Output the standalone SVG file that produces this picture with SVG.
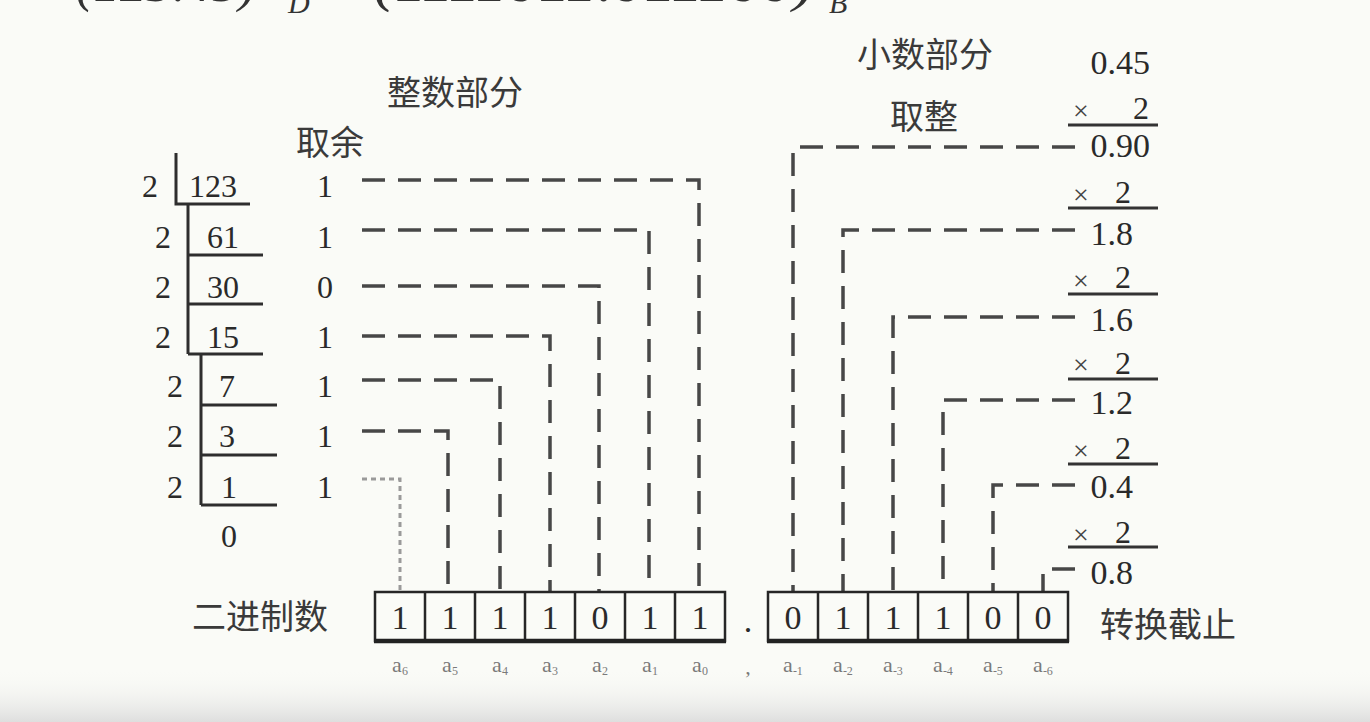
<svg xmlns="http://www.w3.org/2000/svg" width="1370" height="722" viewBox="0 0 1370 722">
<style>
.num{font-family:"Liberation Serif","DejaVu Serif",serif;font-size:32px;fill:#2a2a2a}
.big{font-family:"Liberation Serif","DejaVu Serif",serif;font-size:34px;fill:#2a2a2a}
.cjk{font-family:"Noto Sans CJK SC","Noto Sans CJK JP",sans-serif;font-size:34px;fill:#3a3a3a}
.times{font-family:"Liberation Serif","DejaVu Serif",serif;font-size:28px;fill:#444}
.lbl{font-family:"Liberation Serif","DejaVu Serif",serif;font-size:22px;fill:#7a7a7a}
.sub{font-size:12px}
.div{stroke:#2e2e2e;stroke-width:3;fill:none}
.dash{stroke:#474747;stroke-width:3.5;fill:none;stroke-dasharray:23 13}
.dot{stroke:#9a9a9a;stroke-width:3;fill:none;stroke-dasharray:5 4}
.box{stroke:#262626;stroke-width:2.5;fill:none}
.rule{stroke:#333;stroke-width:3}
.ttl{font-family:"Liberation Serif","DejaVu Serif",serif;fill:#333;font-style:italic}
</style>
<defs>
<linearGradient id="fade" x1="0" y1="0" x2="0" y2="1">
<stop offset="0" stop-color="#fafbf7" stop-opacity="0"/>
<stop offset="1" stop-color="#dedede"/>
</linearGradient>
</defs>
<rect x="0" y="0" width="1370" height="722" fill="#fafbf7"/>
<rect x="0" y="668" width="1370" height="54" fill="url(#fade)"/>

<g id="title">
<text class="ttl" x="76" y="1" font-size="52" textLength="180" lengthAdjust="spacingAndGlyphs">(123.45)</text>
<text class="ttl" x="288" y="13" font-size="30">D</text>
<text class="ttl" x="374" y="1" font-size="52" textLength="440" lengthAdjust="spacingAndGlyphs">(1111011.011100)</text>
<text class="ttl" x="829" y="13" font-size="30">B</text>
</g>

<g id="headers">
<text class="cjk" x="387" y="105">整数部分</text>
<text class="cjk" x="296" y="155">取余</text>
<text class="cjk" x="857" y="67">小数部分</text>
<text class="cjk" x="890" y="129">取整</text>
<text class="cjk" x="192" y="629">二进制数</text>
<text class="cjk" x="1100" y="637">转换截止</text>
</g>

<g id="division">
<path class="div" d="M176 153 V204 H250 M188 204 V354 M188 255 H263 M188 304 H263 M188 354 H263 M201 354 V505 M201 405 H277 M201 455 H277 M201 505 H277"/>
<g class="num" text-anchor="middle">
<text x="150" y="197">2</text><text x="213" y="197">123</text>
<text x="163" y="248">2</text><text x="223" y="248">61</text>
<text x="163" y="298">2</text><text x="223" y="298">30</text>
<text x="163" y="348">2</text><text x="223" y="348">15</text>
<text x="175" y="397">2</text><text x="227" y="397">7</text>
<text x="175" y="447">2</text><text x="227" y="447">3</text>
<text x="175" y="498">2</text><text x="229" y="498">1</text>
<text x="229" y="547">0</text>
</g>
</g>

<g id="remainders" class="num" text-anchor="middle">
<text x="325" y="197">1</text>
<text x="325" y="248">1</text>
<text x="325" y="298">0</text>
<text x="325" y="348">1</text>
<text x="325" y="397">1</text>
<text x="325" y="447">1</text>
<text x="325" y="498">1</text>
</g>

<g id="multiplication">
<text class="big" x="1150" y="74" text-anchor="end">0.45</text>
<text class="times" x="1081" y="120" text-anchor="middle">×</text>
<text class="num" x="1141" y="119" text-anchor="middle">2</text>
<line class="rule" x1="1068" y1="125" x2="1158" y2="125"/>
<text class="big" x="1150" y="157" text-anchor="end">0.90</text>
<text class="times" x="1081" y="204" text-anchor="middle">×</text>
<text class="num" x="1123" y="203" text-anchor="middle">2</text>
<line class="rule" x1="1068" y1="208" x2="1158" y2="208"/>
<text class="big" x="1133" y="245" text-anchor="end">1.8</text>
<text class="times" x="1081" y="290" text-anchor="middle">×</text>
<text class="num" x="1123" y="288" text-anchor="middle">2</text>
<line class="rule" x1="1068" y1="294" x2="1158" y2="294"/>
<text class="big" x="1133" y="331" text-anchor="end">1.6</text>
<text class="times" x="1081" y="374" text-anchor="middle">×</text>
<text class="num" x="1123" y="374" text-anchor="middle">2</text>
<line class="rule" x1="1068" y1="379" x2="1158" y2="379"/>
<text class="big" x="1133" y="414" text-anchor="end">1.2</text>
<text class="times" x="1081" y="460" text-anchor="middle">×</text>
<text class="num" x="1123" y="459" text-anchor="middle">2</text>
<line class="rule" x1="1068" y1="464" x2="1158" y2="464"/>
<text class="big" x="1133" y="498" text-anchor="end">0.4</text>
<text class="times" x="1081" y="544" text-anchor="middle">×</text>
<text class="num" x="1123" y="543" text-anchor="middle">2</text>
<line class="rule" x1="1068" y1="547" x2="1158" y2="547"/>
<text class="big" x="1133" y="584" text-anchor="end">0.8</text>
</g>

<g id="connectors">
<path class="dash" d="M362 180 H699 V592"/>
<path class="dash" d="M362 230 H649 V592"/>
<path class="dash" d="M362 286 H599 V592"/>
<path class="dash" d="M362 336 H550 V592"/>
<path class="dash" d="M362 380 H500 V592"/>
<path class="dash" d="M362 431 H448 V592"/>
<path class="dot" d="M362 479 H400 V592"/>
<path class="dash" d="M1075 147 H793 V592"/>
<path class="dash" d="M1075 230 H843 V592"/>
<path class="dash" d="M1075 317 H893 V592"/>
<path class="dash" d="M1075 400 H943 V592"/>
<path class="dash" d="M1075 485 H993 V592"/>
<path stroke="#474747" stroke-width="3.5" fill="none" d="M1052 569 H1075 M1043 574 V592"/>
</g>

<g id="integer-bits">
<rect class="box" x="375" y="592" width="350" height="49"/>
<path class="box" d="M425 592 V641 M475 592 V641 M525 592 V641 M575 592 V641 M625 592 V641 M675 592 V641"/>
<line x1="374" y1="641" x2="726" y2="641" stroke="#222" stroke-width="4.5"/>
<g class="big" text-anchor="middle">
<text x="400" y="629">1</text><text x="450" y="629">1</text><text x="500" y="629">1</text><text x="550" y="629">1</text><text x="600" y="629">0</text><text x="650" y="629">1</text><text x="700" y="629">1</text>
</g>
</g>

<g id="point">
<text class="big" x="748" y="632" text-anchor="middle">.</text>
<text class="lbl" x="748" y="674" text-anchor="middle">,</text>
</g>

<g id="fraction-bits">
<rect class="box" x="768" y="592" width="300" height="49"/>
<path class="box" d="M818 592 V641 M868 592 V641 M918 592 V641 M968 592 V641 M1018 592 V641"/>
<line x1="767" y1="641" x2="1069" y2="641" stroke="#222" stroke-width="4.5"/>
<g class="big" text-anchor="middle">
<text x="793" y="629">0</text><text x="843" y="629">1</text><text x="893" y="629">1</text><text x="943" y="629">1</text><text x="993" y="629">0</text><text x="1043" y="629">0</text>
</g>
</g>

<g id="labels" class="lbl" text-anchor="middle">
<text x="400" y="672">a<tspan class="sub" dy="3">6</tspan></text>
<text x="450" y="672">a<tspan class="sub" dy="3">5</tspan></text>
<text x="500" y="672">a<tspan class="sub" dy="3">4</tspan></text>
<text x="550" y="672">a<tspan class="sub" dy="3">3</tspan></text>
<text x="600" y="672">a<tspan class="sub" dy="3">2</tspan></text>
<text x="650" y="672">a<tspan class="sub" dy="3">1</tspan></text>
<text x="700" y="672">a<tspan class="sub" dy="3">0</tspan></text>
<text x="793" y="672">a<tspan class="sub" dy="3">-1</tspan></text>
<text x="843" y="672">a<tspan class="sub" dy="3">-2</tspan></text>
<text x="893" y="672">a<tspan class="sub" dy="3">-3</tspan></text>
<text x="943" y="672">a<tspan class="sub" dy="3">-4</tspan></text>
<text x="993" y="672">a<tspan class="sub" dy="3">-5</tspan></text>
<text x="1043" y="672">a<tspan class="sub" dy="3">-6</tspan></text>
</g>
</svg>
